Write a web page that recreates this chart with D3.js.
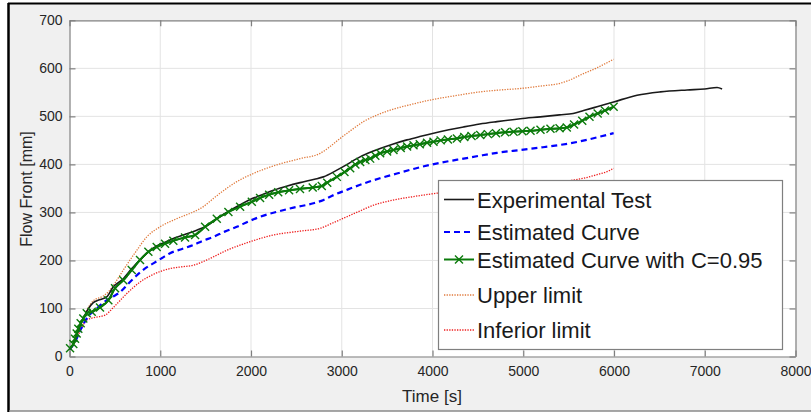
<!DOCTYPE html>
<html><head><meta charset="utf-8">
<script src="https://cdn.jsdelivr.net/npm/d3@7"></script>
<style>
html,body{margin:0;padding:0;background:#fff;}
svg{display:block;font-family:"Liberation Sans",Arial,Helvetica,sans-serif;}
</style></head>
<body>
<svg id="chart" width="811" height="412"></svg>
<script>
// ---- data ----
const xTicks = [0,1000,2000,3000,4000,5000,6000,7000,8000];
const yTicks = [0,100,200,300,400,500,600,700];
const seriesNames = ["Experimental Test","Estimated Curve","Estimated Curve with C=0.95","Upper limit","Inferior limit"];

const expT = [0,40,80,120,160,200,262,330,410,483,593,686,777,869,961,1053,1163,1270,1402,1513,1641,1751,1880,1990,2100,2247,2400,2541,2700,2798,2946,3060,3166,3300,3423,3560,3718,3860,4011,4180,4342,4520,4710,4967,5188,5400,5550,5665,5813,5996,6254,6511,6805,7000,7136,7191];
const expV = [15,25,45,65,82,97,112,118,124,145,162,183,201,218,230,238,247,254,263,272,289,302,316,327,335,346,355,362,369,374,388,400,412,424,433,442,451,458,465,472,478,484,489,495,499,503,506,512,520,530,544,551,555,557,560,557];

const estT = [0,60,120,200,300,400,483,557,650,741,830,924,1020,1108,1240,1365,1470,1585,1710,1843,1970,2100,2280,2468,2688,2800,2909,3070,3239,3420,3608,3800,3975,4160,4342,4520,4710,4967,5188,5350,5518,5700,5850,5996];
const estV = [15,30,55,82,100,116,125,134,152,169,183,194,205,215,224,232,241,249,260,270,281,291,301,310,319,326,336,348,360,371,381,391,399,406,412,418,424,430,435,439,444,451,458,465];

const c95T = [6,42,61,79,97,123,152,190,245,336,428,502,593,686,777,869,961,1053,1144,1273,1384,1494,1623,1751,1880,2009,2100,2200,2300,2420,2540,2680,2780,2840,2946,3030,3093,3150,3203,3260,3313,3370,3423,3500,3570,3650,3720,3791,3860,3940,4011,4090,4170,4269,4350,4430,4526,4610,4700,4800,4893,4990,5080,5190,5300,5400,5480,5560,5650,5730,5820,5900,5996];
const c95V = [17,26,37,48,58,69,79,90,93,102,117,142,159,180,201,218,228,235,241,248,253,270,287,301,312,322,330,337,342,346,349,352,355,362,374,384,392,400,405,409,412,418,423,427,430,434,437,440,442,445,447,450,452,454,457,459,461,463,465,467,468,469,470,472,474,475,477,483,491,499,506,512,520];

const upT = [0,60,120,190,262,373,430,483,593,741,851,998,1182,1365,1475,1560,1659,1843,2026,2284,2541,2762,2870,2982,3110,3239,3380,3534,3750,3975,4250,4526,4750,4967,5188,5408,5518,5629,5800,5996];
const upV = [15,35,65,96,116,126,135,148,180,221,249,270,287,301,312,325,340,364,381,399,412,423,437,454,472,489,502,513,524,534,543,551,555,558,563,569,576,586,600,619];

const lowT = [0,50,116,190,300,391,483,631,777,924,1108,1250,1365,1513,1733,1990,2247,2541,2762,2900,3056,3200,3350,3550,3791,4048,4300,4600,5000,5300,5500,5662,5800,5959,5996];
const lowV = [15,28,52,76,82,86,102,131,155,171,183,187,190,201,221,239,253,261,267,278,291,303,315,325,333,340,346,352,358,362,366,371,378,388,392];

// ---- layout ----
const svg = d3.select("#chart");
const L = 69.5, R = 795.5, T = 20.3, B = 356.5;
const x = d3.scaleLinear().domain([0,8000]).range([L,R]);
const y = d3.scaleLinear().domain([0,700]).range([B,T]);

// figure background + frame
svg.append("rect").attr("x",9).attr("y",4).attr("width",802).attr("height",407).attr("fill","#f0f0f0");
svg.append("line").attr("x1",8).attr("x2",811).attr("y1",3.5).attr("y2",3.5).attr("stroke","#000").attr("stroke-width",2);
svg.append("line").attr("x1",8.5).attr("x2",8.5).attr("y1",3).attr("y2",412).attr("stroke","#000").attr("stroke-width",2.5);
svg.append("line").attr("x1",9).attr("x2",811).attr("y1",411).attr("y2",411).attr("stroke","#8a8a8a").attr("stroke-width",1.5);

// plot area
svg.append("rect").attr("x",L).attr("y",T).attr("width",R-L).attr("height",B-T).attr("fill","#fff");

// grid
const g = svg.append("g");
g.selectAll(".gx").data(xTicks.slice(1,-1)).join("line")
  .attr("x1",d=>x(d)).attr("x2",d=>x(d)).attr("y1",T).attr("y2",B)
  .attr("stroke","#e3e3e3").attr("stroke-width",1);
g.selectAll(".gy").data(yTicks.slice(1,-1)).join("line")
  .attr("x1",L).attr("x2",R).attr("y1",d=>y(d)).attr("y2",d=>y(d))
  .attr("stroke","#e3e3e3").attr("stroke-width",1);

// axes (ticks inside, on all four sides)
const axisColor = "#7f7f7f";
function styleAxis(sel){
  sel.select(".domain").attr("stroke",axisColor).attr("stroke-width",1.2);
  sel.selectAll(".tick line").attr("stroke",axisColor).attr("stroke-width",1.2);
  sel.selectAll(".tick text").attr("fill","#262626").style("font-size","14px")
     .style("font-family","'Liberation Sans',Arial,sans-serif");
}
const xb = svg.append("g").attr("transform",`translate(0,${B})`)
  .call(d3.axisBottom(x).tickValues(xTicks).tickSize(-6).tickPadding(10).tickSizeOuter(0).tickFormat(d3.format("d")));
styleAxis(xb);
const xt = svg.append("g").attr("transform",`translate(0,${T})`)
  .call(d3.axisTop(x).tickValues(xTicks).tickSize(-6).tickSizeOuter(0).tickFormat(""));
styleAxis(xt);
const yl = svg.append("g").attr("transform",`translate(${L},0)`)
  .call(d3.axisLeft(y).tickValues(yTicks).tickSize(-6).tickPadding(7).tickSizeOuter(0).tickFormat(d3.format("d")));
styleAxis(yl);
const yr = svg.append("g").attr("transform",`translate(${R},0)`)
  .call(d3.axisRight(y).tickValues(yTicks).tickSize(-6).tickSizeOuter(0).tickFormat(""));
styleAxis(yr);

// axis labels
svg.append("text").attr("x",432).attr("y",402).attr("text-anchor","middle")
  .attr("fill","#262626").style("font-size","17px").text("Time [s]");
svg.append("text").attr("transform","translate(32,189) rotate(-90)").attr("text-anchor","middle")
  .attr("fill","#262626").style("font-size","16px").text("Flow Front [mm]");

// curves
const line = d3.line().x(d=>x(d[0])).y(d=>y(d[1])).curve(d3.curveMonotoneX);
const zip = (a,b)=>a.map((t,i)=>[t,b[i]]);
const plot = svg.append("g");
const styles = [
  {stroke:"#1a1a1a", w:1.6, dash:null},
  {stroke:"#0000ff", w:2.2, dash:"6,4"},
  {stroke:"#0b7a0b", w:2, dash:null},
  {stroke:"#e07a3c", w:1.3, dash:"1.3,1.3"},
  {stroke:"#ee1c1c", w:1.3, dash:"1.3,1.3"}
];
function drawLine(data, s){
  plot.append("path").datum(data).attr("d",line).attr("fill","none")
    .attr("stroke",s.stroke).attr("stroke-width",s.w)
    .attr("stroke-dasharray",s.dash).attr("stroke-linejoin","round");
}
drawLine(zip(upT,upV), styles[3]);
drawLine(zip(lowT,lowV), styles[4]);
drawLine(zip(estT,estV), styles[1]);
drawLine(zip(c95T,c95V), styles[2]);
drawLine(zip(expT,expV), styles[0]);
drawLine(zip(c95T,c95V), Object.assign({}, styles[2], {w:1.8}));

// x markers
const m = 4;
plot.selectAll(".mk").data(zip(c95T,c95V)).join("path")
  .attr("d",d=>{const cx=x(d[0]),cy=y(d[1]);return `M${cx-m},${cy-m}L${cx+m},${cy+m}M${cx-m},${cy+m}L${cx+m},${cy-m}`;})
  .attr("stroke","#0b7a0b").attr("stroke-width",1.4).attr("fill","none");

// legend
const lg = svg.append("g");
lg.append("rect").attr("x",438.5).attr("y",180.5).attr("width",344).attr("height",169)
  .attr("fill","#fff").attr("stroke","#7f7f7f").attr("stroke-width",1.2);
const rowsY = [199.5,232,259.5,295,330];
seriesNames.forEach((name,i)=>{
  const s = styles[i], yy = rowsY[i];
  lg.append("line").attr("x1",444).attr("x2",474).attr("y1",yy).attr("y2",yy)
    .attr("stroke",s.stroke).attr("stroke-width",s.w).attr("stroke-dasharray",s.dash);
  if(i===2){
    lg.append("path").attr("d",`M${459-m},${yy-m}L${459+m},${yy+m}M${459-m},${yy+m}L${459+m},${yy-m}`)
      .attr("stroke",s.stroke).attr("stroke-width",1.4);
  }
  lg.append("text").attr("x",477).attr("y",yy+8).attr("fill","#1a1a1a")
    .style("font-size","22px").text(name);
});
</script>
</body></html>
